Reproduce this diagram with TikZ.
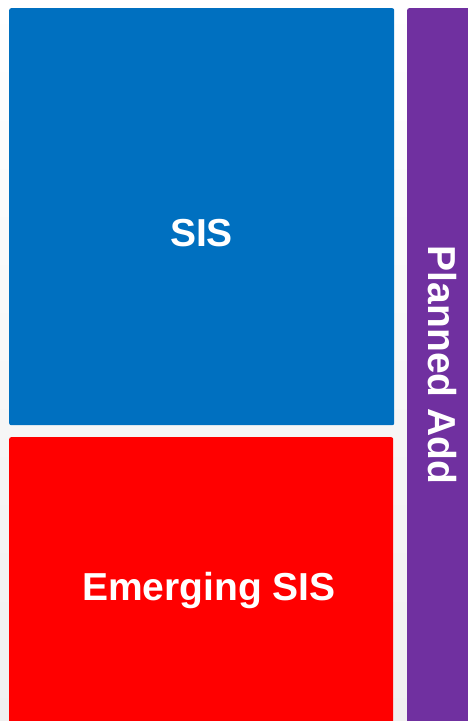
\documentclass[tikz,border=0pt]{standalone}
\usepackage{fontspec}
\setmainfont{Liberation Sans}
\usetikzlibrary{positioning}
\definecolor{sisblue}{HTML}{0070C0}
\definecolor{sisred}{HTML}{FF0000}
\definecolor{plannedpurple}{HTML}{7030A0}
\definecolor{bglow}{HTML}{F0F0F0}

\begin{document}
\begin{tikzpicture}[x=1pt,y=-1pt,
  tile/.style={rounded corners=2pt,draw=none,inner sep=0pt,anchor=north west},
  lbl/.style={text=white,font=\fontsize{39}{41}\selectfont\bfseries,inner sep=0pt}]
  % background
  \shade[top color=white,bottom color=bglow] (0,0) rectangle (468,721);
  \useasboundingbox (0,0) rectangle (468,721);
  % tiles
  \node[tile,fill=sisblue,minimum width=385pt,minimum height=417pt] (sis) at (9,8) {};
  \node[tile,fill=sisred,minimum width=384pt,minimum height=290pt] (emerging) at (9,437) {};
  \node[tile,fill=plannedpurple,minimum width=64pt,minimum height=716pt] (planned) at (407,8) {};
  % labels
  \node[lbl] (sislbl) at (201.5,233) {SIS};
  \node[lbl] (emerginglbl) at (209,590) {Emerging SIS};
  \node[lbl,rotate=-90] (plannedlbl) at (442,365) {Planned Add};
\end{tikzpicture}
\end{document}
